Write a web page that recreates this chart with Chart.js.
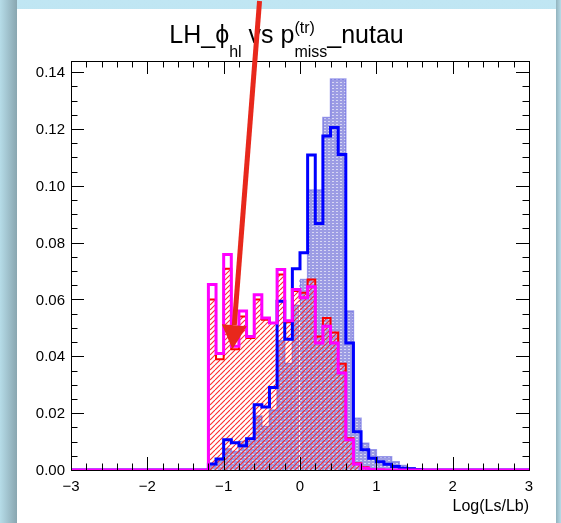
<!DOCTYPE html>
<html>
<head>
<meta charset="utf-8">
<script src="https://cdn.jsdelivr.net/npm/chart.js@4.4.1/dist/chart.umd.min.js"></script>
<style>
html, body { margin: 0; padding: 0; }
body {
    width: 561px; height: 523px; overflow: hidden; position: relative;
    background: linear-gradient(to bottom, #c0e6f3 0%, #b4dbe8 55%, #a8cedb 100%);
}
#shadeL {
    position: absolute; left: 0; top: 0; width: 17px; height: 523px;
    background: linear-gradient(to right, #b6dce8 0%, #9dbec9 55%, #89a6b0 100%);
}
#shadeR {
    position: absolute; left: 556px; top: 0; width: 5px; height: 523px;
    background: linear-gradient(to right, #92b3be, #b7dbe7);
}
#panel { position: absolute; left: 17px; top: 9px; width: 539px; height: 514px; background: #fff; }
#c { position: absolute; left: 0; top: 0; }
</style>
</head>
<body>
<div id="shadeL"></div>
<div id="shadeR"></div>
<div id="panel"></div>
<canvas id="c" width="561" height="523"></canvas>
<script>
// Histogram bins: width 0.1, first non-empty bin starts at -1.2
const binStart = -1.2;
const binWidth = 0.1;

// blue filled histogram (dotted lavender)
const blueFill = [0.0015, 0.0035, 0.0075, 0.0065, 0.0100, 0.0100, 0.0190, 0.0153, 0.0211, 0.0455,
                  0.0375, 0.0580, 0.0670, 0.0985, 0.0985, 0.1240, 0.1376, 0.1376, 0.0559, 0.0182,
                  0.0094, 0.0071, 0.0047, 0.0047, 0.0029, 0.0016, 0.0008, 0.0003];
// blue outline histogram
const blueLine = [0.0021, 0.0039, 0.0106, 0.0096, 0.0085, 0.0110, 0.0230, 0.0222, 0.0290, 0.0594,
                  0.0460, 0.0708, 0.0764, 0.1108, 0.0867, 0.1175, 0.1205, 0.1110, 0.0447, 0.0135,
                  0.0071, 0.0041, 0.0029, 0.0020, 0.0012, 0.0006, 0.0004, 0.0002];
// red hatched histogram
const redHatch = [0.0600, 0.0390, 0.0708, 0.0425, 0.0540, 0.0464, 0.0600, 0.0529, 0.0517, 0.0688,
                  0.0520, 0.0630, 0.0624, 0.0670, 0.0470, 0.0535, 0.0484, 0.0374, 0.0112, 0.0024,
                  0.0010, 0.0003, 0.0001, 0, 0, 0, 0, 0];
// magenta outline histogram
const magenta = [0.0653, 0.0410, 0.0758, 0.0435, 0.0559, 0.0470, 0.0617, 0.0535, 0.0517, 0.0705,
                 0.0525, 0.0635, 0.0606, 0.0645, 0.0447, 0.0506, 0.0447, 0.0341, 0.0106, 0.0021,
                 0.0006, 0.0002, 0.0001, 0, 0, 0, 0, 0];

const xTickValues = [-3, -2, -1, 0, 1, 2, 3];
const xTickLabels = ['\u22123', '\u22122', '\u22121', '0', '1', '2', '3'];
const yTickValues = [0, 0.02, 0.04, 0.06, 0.08, 0.10, 0.12, 0.14];
const yTickLabels = ['0.00', '0.02', '0.04', '0.06', '0.08', '0.10', '0.12', '0.14'];
const xTitle = 'Log(Ls/Lb)';

// red annotation arrow, in data coordinates
const arrowFrom = [-0.53, 0.165];
const arrowTo = [-0.885, 0.0425];

const FONT = '"Liberation Sans", Arial, Helvetica, sans-serif';

// turn bin contents into step points from -3 to 3
function toSteps(vals) {
    const pts = [{ x: -3, y: 0 }];
    vals.forEach((v, i) => pts.push({ x: binStart + i * binWidth, y: v }));
    pts.push({ x: binStart + vals.length * binWidth, y: 0 });
    pts.push({ x: 3, y: 0 });
    return pts;
}

function dotPattern() {
    const c = document.createElement('canvas');
    c.width = 4; c.height = 3;
    const g = c.getContext('2d');
    g.fillStyle = '#9c9ce4';
    g.fillRect(0, 0, 4, 3);
    g.fillStyle = 'rgba(255,255,255,0.6)';
    g.fillRect(0, 1, 2, 1);
    return g.createPattern(c, 'repeat');
}

function hatchPattern() {
    const s = 5;
    const c = document.createElement('canvas');
    c.width = s; c.height = s;
    const g = c.getContext('2d');
    g.strokeStyle = 'rgba(255,30,30,0.95)';
    g.lineWidth = 1.1;
    [-s, 0, s].forEach(o => {
        g.beginPath();
        g.moveTo(o, s);
        g.lineTo(o + s, 0);
        g.stroke();
    });
    return g.createPattern(c, 'repeat');
}

function drawTitle(ctx) {
    const big = 25, small = 16;
    const parts = [
        { t: 'LH_', f: big, dy: 0 },
        { t: '\u03D5', f: big, dy: 0 },
        { t: 'hl', f: small, dy: 14 },
        { t: ' vs p', f: big, dy: 0 },
        { sup: '(tr)', sub: 'miss', f: small },
        { t: '_nutau', f: big, dy: 0 }
    ];
    let total = 0;
    parts.forEach(p => {
        ctx.font = p.f + 'px ' + FONT;
        if (p.t) p.w = ctx.measureText(p.t).width;
        else p.w = Math.max(ctx.measureText(p.sup).width, ctx.measureText(p.sub).width);
        total += p.w;
    });
    let x = 286.5 - total / 2;
    const base = 43;
    ctx.fillStyle = '#000';
    ctx.textAlign = 'left';
    ctx.textBaseline = 'alphabetic';
    parts.forEach(p => {
        ctx.font = p.f + 'px ' + FONT;
        if (p.t) {
            ctx.fillText(p.t, x, base + p.dy);
        } else {
            ctx.fillText(p.sup, x, base - 10);
            ctx.fillText(p.sub, x, base + 14);
        }
        x += p.w;
    });
}

const rootStyle = {
    id: 'rootStyle',
    afterDatasetDraw(chart, args) {
        // white dashed line at x = 0 over the filled areas
        if (args.index !== 1) return;
        const { ctx, chartArea } = chart;
        const x0 = Math.round(chart.scales.x.getPixelForValue(0)) - 0.5;
        ctx.save();
        ctx.strokeStyle = 'rgba(255,255,255,0.9)';
        ctx.lineWidth = 1;
        ctx.setLineDash([3, 2]);
        ctx.beginPath();
        ctx.moveTo(x0, chartArea.bottom);
        ctx.lineTo(x0, chart.scales.y.getPixelForValue(0.1376));
        ctx.stroke();
        ctx.restore();
    },
    afterDraw(chart) {
        const { ctx, chartArea: a } = chart;
        const xs = chart.scales.x, ys = chart.scales.y;
        ctx.save();

        // frame
        ctx.strokeStyle = '#000';
        ctx.lineWidth = 1;
        ctx.strokeRect(a.left + 0.5, a.top + 0.5, a.right - a.left, a.bottom - a.top);

        // x ticks, bottom and top, pointing inward
        ctx.beginPath();
        for (let k = 0; k <= 30; k++) {
            const v = -3 + k * 0.2;
            const px = Math.round(xs.getPixelForValue(v)) + 0.5;
            const len = (k % 5 === 0) ? 13 : 6.5;
            ctx.moveTo(px, a.bottom); ctx.lineTo(px, a.bottom - len);
            ctx.moveTo(px, a.top); ctx.lineTo(px, a.top + len);
        }
        // y ticks, left and right
        for (let k = 0; k <= 28; k++) {
            const v = k * 0.005;
            const py = Math.round(ys.getPixelForValue(v)) + 0.5;
            const len = (k % 4 === 0) ? 13 : 6.5;
            ctx.moveTo(a.left, py); ctx.lineTo(a.left + len, py);
            ctx.moveTo(a.right, py); ctx.lineTo(a.right - len, py);
        }
        ctx.stroke();

        // tick labels
        ctx.fillStyle = '#000';
        ctx.font = '15px ' + FONT;
        ctx.textAlign = 'center';
        ctx.textBaseline = 'alphabetic';
        xTickValues.forEach((v, i) => {
            ctx.fillText(xTickLabels[i], xs.getPixelForValue(v), 491);
        });
        ctx.textAlign = 'right';
        ctx.textBaseline = 'middle';
        yTickValues.forEach((v, i) => {
            ctx.fillText(yTickLabels[i], a.left - 6, ys.getPixelForValue(v) + 1);
        });

        // axis title
        ctx.font = '16px ' + FONT;
        ctx.textAlign = 'right';
        ctx.textBaseline = 'alphabetic';
        ctx.fillText(xTitle, a.right, 511);

        drawTitle(ctx);

        // red arrow annotation
        const p0 = { x: xs.getPixelForValue(arrowFrom[0]), y: ys.getPixelForValue(arrowFrom[1]) };
        const p1 = { x: xs.getPixelForValue(arrowTo[0]), y: ys.getPixelForValue(arrowTo[1]) };
        const ang = Math.atan2(p1.y - p0.y, p1.x - p0.x);
        const headLen = 24, headW = 12.5;
        const bx = p1.x - headLen * Math.cos(ang), by = p1.y - headLen * Math.sin(ang);
        ctx.strokeStyle = '#e8281c';
        ctx.fillStyle = '#e8281c';
        ctx.lineWidth = 5;
        ctx.beginPath();
        ctx.moveTo(p0.x, p0.y);
        ctx.lineTo(bx, by);
        ctx.stroke();
        ctx.beginPath();
        ctx.moveTo(p1.x, p1.y);
        ctx.lineTo(bx - headW * Math.sin(ang), by + headW * Math.cos(ang));
        ctx.lineTo(bx + headW * Math.sin(ang), by - headW * Math.cos(ang));
        ctx.closePath();
        ctx.fill();

        ctx.restore();
    }
};

function init() {
    const ctx = document.getElementById('c').getContext('2d');
    new Chart(ctx, {
        type: 'line',
        data: {
            datasets: [
                { data: toSteps(blueFill), stepped: true, fill: 'origin', order: 3,
                  backgroundColor: dotPattern(), borderColor: 'rgba(100,100,225,0.6)', borderWidth: 1.5 },
                { data: toSteps(redHatch), stepped: true, fill: 'origin', order: 2,
                  backgroundColor: hatchPattern(), borderColor: '#ff0000', borderWidth: 2 },
                { data: toSteps(blueLine), stepped: true, fill: false, order: 1,
                  borderColor: '#0000ff', borderWidth: 3 },
                { data: toSteps(magenta), stepped: true, fill: false, order: 0,
                  borderColor: '#ff00ff', borderWidth: 3 }
            ]
        },
        options: {
            responsive: false,
            animation: false,
            devicePixelRatio: 1,
            layout: { padding: { left: 71, right: 32, top: 61, bottom: 53 } },
            elements: { point: { radius: 0 }, line: { tension: 0 } },
            plugins: { legend: { display: false }, tooltip: { enabled: false } },
            scales: {
                x: { type: 'linear', min: -3, max: 3, display: false },
                y: { type: 'linear', min: 0, max: 0.1439, display: false }
            }
        },
        plugins: [rootStyle]
    });
}

window.onload = init;
</script>
</body>
</html>
